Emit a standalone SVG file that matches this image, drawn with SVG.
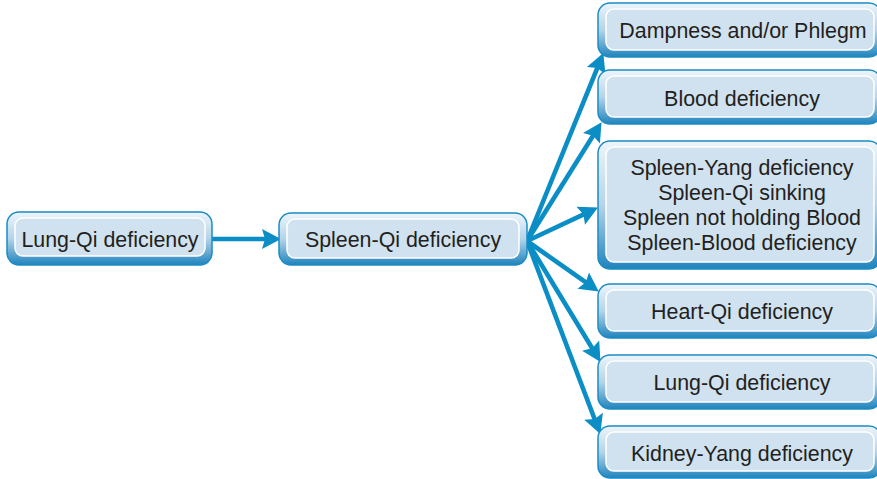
<svg xmlns="http://www.w3.org/2000/svg" width="877" height="479" viewBox="0 0 877 479">
  <style>
    .frame { fill: url(#frameGrad); stroke: #1a8cc4; stroke-width: 1.5; }
    .face { fill: #d0e2ef; stroke: #ffffff; stroke-width: 1.5; }
    .label { font-family: "Liberation Sans", Arial, sans-serif; font-size: 21.4px; fill: #231f20; text-anchor: middle; }
    .conn { stroke: #0b8ec5; stroke-width: 4.6; fill: none; marker-end: url(#head); }
  </style>
  <defs>
    <linearGradient id="frameGrad" x1="0" y1="0" x2="0" y2="1">
      <stop offset="0" stop-color="#eef5fb"/>
      <stop offset="0.5" stop-color="#b4d4e9"/>
      <stop offset="1" stop-color="#1f84bd"/>
    </linearGradient>
    <marker id="head" markerUnits="userSpaceOnUse" markerWidth="19" markerHeight="20" refX="8" refY="10" orient="auto" overflow="visible">
      <path d="M0,0 L19,10 L0,20 L3,10 z" fill="#0b8ec5"/>
    </marker>
  </defs>

  <!-- connectors -->
  <g id="connectors">
    <line class="conn" x1="212" y1="239" x2="270" y2="239"/>
    <line class="conn" x1="527" y1="241" x2="599.2" y2="63.3"/>
    <line class="conn" x1="527" y1="241" x2="595.7" y2="131.5"/>
    <line class="conn" x1="527" y1="241" x2="588.0" y2="212.3"/>
    <line class="conn" x1="527" y1="241" x2="589.8" y2="285.2"/>
    <line class="conn" x1="527" y1="241" x2="594.8" y2="352.5"/>
    <line class="conn" x1="527" y1="241" x2="596.4" y2="423.7"/>
  </g>

  <g id="lung-qi-source">
    <rect class="frame" x="7" y="212" width="205" height="53" rx="12"/>
    <rect class="face" x="15" y="218" width="190" height="38" rx="8"/>
    <text class="label" x="110" y="246.5">Lung-Qi deficiency</text>
  </g>

  <g id="spleen-qi">
    <rect class="frame" x="279" y="213" width="248" height="52" rx="12"/>
    <rect class="face" x="287" y="219" width="232" height="39" rx="8"/>
    <text class="label" x="403" y="246.5">Spleen-Qi deficiency</text>
  </g>

  <g id="dampness">
    <rect class="frame" x="598" y="3" width="283" height="54" rx="12"/>
    <rect class="face" x="606" y="9" width="268" height="41" rx="8"/>
    <text class="label" x="743" y="38">Dampness and/or Phlegm</text>
  </g>

  <g id="blood-deficiency">
    <rect class="frame" x="598" y="70" width="283" height="54" rx="12"/>
    <rect class="face" x="606" y="76" width="268" height="41" rx="8"/>
    <text class="label" x="742" y="105.5">Blood deficiency</text>
  </g>

  <g id="spleen-patterns">
    <rect class="frame" x="598" y="141" width="283" height="128" rx="12"/>
    <rect class="face" x="606" y="147" width="268" height="115" rx="8"/>
    <text class="label" x="742" y="175">Spleen-Yang deficiency</text>
    <text class="label" x="742" y="200">Spleen-Qi sinking</text>
    <text class="label" x="742" y="225">Spleen not holding Blood</text>
    <text class="label" x="742" y="250">Spleen-Blood deficiency</text>
  </g>

  <g id="heart-qi">
    <rect class="frame" x="598" y="284" width="283" height="54" rx="12"/>
    <rect class="face" x="606" y="290" width="268" height="41" rx="8"/>
    <text class="label" x="742" y="319">Heart-Qi deficiency</text>
  </g>

  <g id="lung-qi-target">
    <rect class="frame" x="598" y="355" width="283" height="54" rx="12"/>
    <rect class="face" x="606" y="361" width="268" height="41" rx="8"/>
    <text class="label" x="742" y="390">Lung-Qi deficiency</text>
  </g>

  <g id="kidney-yang">
    <rect class="frame" x="598" y="426" width="283" height="52" rx="12"/>
    <rect class="face" x="606" y="432" width="268" height="39" rx="8"/>
    <text class="label" x="742" y="461">Kidney-Yang deficiency</text>
  </g>
</svg>
